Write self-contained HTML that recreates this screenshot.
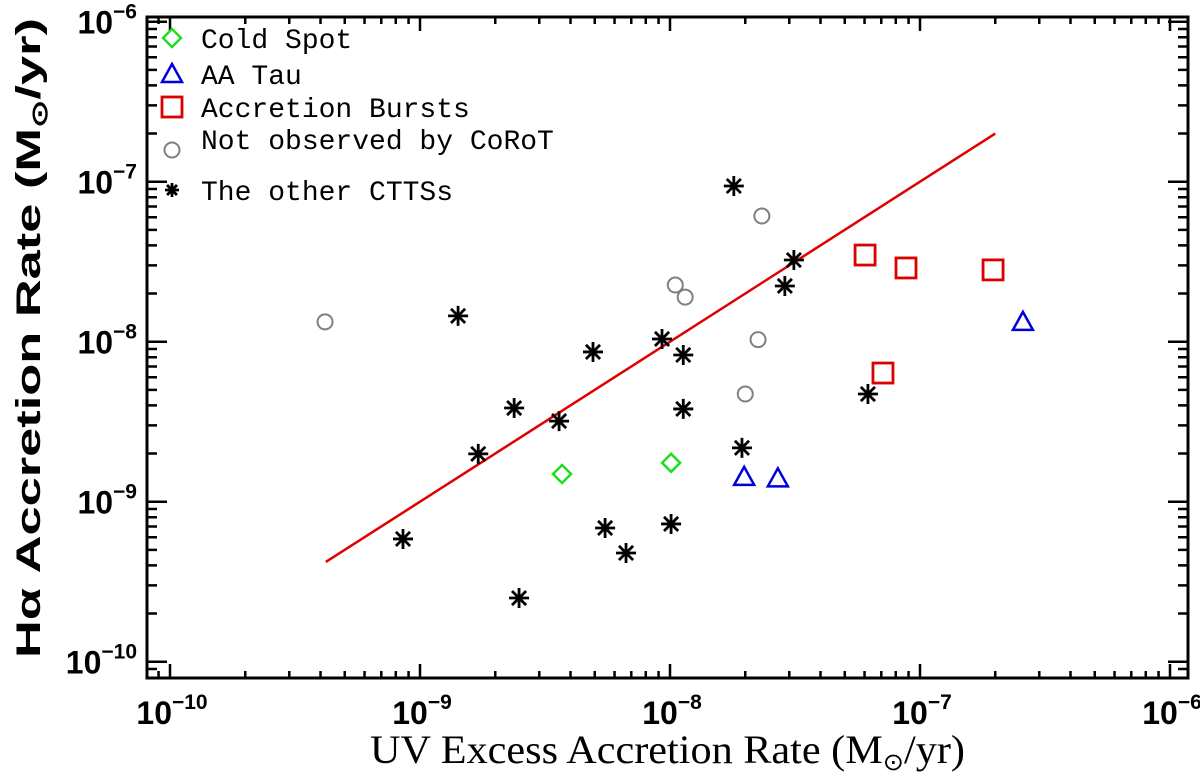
<!DOCTYPE html>
<html><head><meta charset="utf-8"><style>
html,body{margin:0;padding:0;background:#fff;}
svg{display:block;}
</style></head><body>
<svg id="chart" width="1200" height="776" viewBox="0 0 1200 776" xmlns="http://www.w3.org/2000/svg">
<g id="marks"></g>
<g id="axes"></g>
</svg>
<script>
const xTickExps = [-10, -9, -8, -7, -6];
const yTickExps = [-10, -9, -8, -7, -6];
const fitLineX = [4.2e-10, 2.0e-7];
const otherX = [8.55e-10,1.71e-9,1.42e-9,2.38e-9,2.49e-9,3.6e-9,4.92e-9,5.5e-9,6.67e-9,9.29e-9,1.01e-8,1.13e-8,1.13e-8,1.8e-8,1.94e-8,2.88e-8,3.13e-8,6.19e-8];
const otherY = [5.85e-10,1.99e-9,1.45e-8,3.85e-9,2.5e-10,3.19e-9,8.63e-9,6.85e-10,4.78e-10,1.04e-8,7.26e-10,8.26e-9,3.8e-9,9.4e-8,2.17e-9,2.23e-8,3.24e-8,4.71e-9];
const coldX = [3.7e-9, 1.01e-8];
const coldY = [1.49e-9, 1.75e-9];
const aaX = [1.98e-8, 2.7e-8, 2.58e-7];
const aaY = [1.43e-9, 1.4e-9, 1.33e-8];
const burstX = [6.03e-8, 8.79e-8, 1.96e-7, 7.11e-8];
const burstY = [3.48e-8, 2.89e-8, 2.81e-8, 6.37e-9];
const notobsX = [4.17e-10, 2.33e-8, 1.05e-8, 1.15e-8, 2.25e-8, 2.0e-8];
const notobsY = [1.33e-8, 6.1e-8, 2.26e-8, 1.9e-8, 1.03e-8, 4.71e-9];

const NS='http://www.w3.org/2000/svg';
const L=147,R=1188,T=17,B=678;
const X0=170, XD=250, Y0=661.7, YD=160;
function xs(v){return X0+(Math.log10(v)+10)*XD;}
function ys(v){return Y0-(Math.log10(v)+10)*YD;}
function mk(tag,attrs,parent){const e=document.createElementNS(NS,tag);for(const k in attrs)e.setAttribute(k,attrs[k]);parent.appendChild(e);return e;}
const marks=document.getElementById('marks');
const axes=document.getElementById('axes');

const fl=mk('line',{x1:xs(fitLineX[0]),y1:ys(fitLineX[0]),x2:xs(fitLineX[1]),y2:ys(fitLineX[1]),stroke:'#e00000','stroke-width':2.5},marks);



function asterisk(cx,cy,g,s){s=s||10;let d='';for(let i=0;i<4;i++){const a=i*Math.PI/4;const dx=s*Math.cos(a),dy=s*Math.sin(a);d+=`M${cx-dx},${cy-dy}L${cx+dx},${cy+dy}`;}return mk('path',{d:d,stroke:'#000','stroke-width':2.8,fill:'none'},g);}
function diamond(cx,cy,g){return mk('path',{d:`M${cx},${cy-9}L${cx+9},${cy}L${cx},${cy+9}L${cx-9},${cy}Z`,stroke:'#22dd22','stroke-width':2.5,fill:'none'},g);}
function tri(cx,cy,g){return mk('path',{d:`M${cx},${cy-10}L${cx+10},${cy+8}L${cx-10},${cy+8}Z`,stroke:'#0000dd','stroke-width':2.5,fill:'none'},g);}
function sq(cx,cy,g){return mk('rect',{x:cx-10,y:cy-10,width:20,height:20,stroke:'#dd0000','stroke-width':2.8,fill:'none'},g);}
function circ(cx,cy,g){return mk('circle',{cx:cx,cy:cy,r:7.5,stroke:'#808080','stroke-width':2,fill:'none'},g);}

for(let i=0;i<otherX.length;i++){const e=asterisk(xs(otherX[i]),ys(otherY[i]),marks);

}
for(let i=0;i<coldX.length;i++){const e=diamond(xs(coldX[i]),ys(coldY[i]),marks);

}
for(let i=0;i<aaX.length;i++){const e=tri(xs(aaX[i]),ys(aaY[i]),marks);

}
for(let i=0;i<burstX.length;i++){const e=sq(xs(burstX[i]),ys(burstY[i]),marks);

}
for(let i=0;i<notobsX.length;i++){const e=circ(xs(notobsX[i]),ys(notobsY[i]),marks);

}

const fr=mk('rect',{x:L,y:T,width:R-L,height:B-T,fill:'none',stroke:'#000','stroke-width':3},axes);



let td='';
for(let e=-11;e<=-6;e++){for(let m=1;m<10;m++){const v=m*Math.pow(10,e);const x=xs(v);if(x<L+1||x>R-1)continue;const len=m===1?14:7;td+=`M${x},${B}V${B-len}M${x},${T}V${T+len}`;}}
for(let e=-11;e<=-6;e++){for(let m=1;m<10;m++){const v=m*Math.pow(10,e);const y=ys(v);if(y<T+1||y>B-1)continue;const len=m===1?20:10;td+=`M${L},${y}H${L+len}M${R},${y}H${R-len}`;}}
const tk=mk('path',{d:td,stroke:'#000','stroke-width':2.5,fill:'none'},axes);



function powLabel(x,y,exp,anchor,name){const t=mk('text',{x:x,y:y,'font-family':'Liberation Sans, sans-serif','font-size':32,'font-weight':'bold','text-anchor':anchor},axes);


const a=document.createElementNS(NS,'tspan');a.textContent='10';t.appendChild(a);
const b=document.createElementNS(NS,'tspan');b.setAttribute('dy','-15');b.setAttribute('font-size','21');b.textContent='\u2212'+(-exp);t.appendChild(b);return t;}
xTickExps.forEach(e=>{powLabel(xs(Math.pow(10,e))+2,724,e,'middle','x-tick-label');});
yTickExps.forEach(e=>{powLabel(137,ys(Math.pow(10,e))+12,e,'end','y-tick-label');});

const xt=mk('text',{x:370,y:763,'font-family':'Liberation Serif, serif','font-size':40,textLength:595,lengthAdjust:'spacingAndGlyphs'},axes);


xt.innerHTML='UV Excess Accretion Rate (M<tspan font-size="24" dy="7">\u2299</tspan><tspan dy="-7">/yr)</tspan>';
const yt=mk('text',{x:0,y:0,'font-family':'Liberation Sans, sans-serif','font-size':34,'font-weight':'bold',textLength:640,lengthAdjust:'spacingAndGlyphs',transform:'translate(40,658) rotate(-90)'},axes);


yt.innerHTML='H\u03b1 Accretion Rate (M<tspan font-size="22" dy="7">\u2299</tspan><tspan dy="-7">/yr)</tspan>';

const lg=mk('g',{},axes);


const legText=['Cold Spot','AA Tau','Accretion Bursts','Not observed by CoRoT','The other CTTSs'];
const legY=[38,74,107,150,190];
const legFns=[diamond,tri,sq,circ,(x,y,g)=>asterisk(x,y,g,7)];
for(let i=0;i<legText.length;i++){
 const s=legFns[i](172,legY[i],lg);
 
 
 const t=mk('text',{x:201,y:legY[i]+(i===3?-1:10),'font-family':'Liberation Mono, monospace','font-size':28},lg);
 
 
 t.textContent=legText[i];
}
</script>
</body></html>
